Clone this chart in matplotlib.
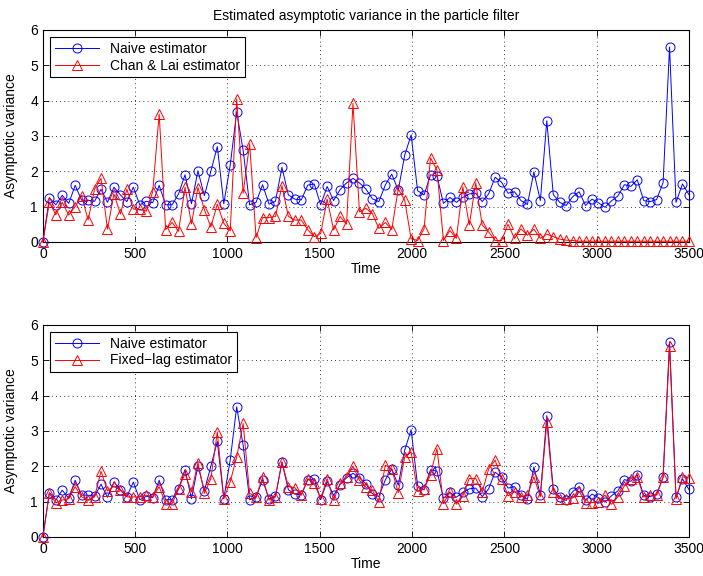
import numpy as np
import matplotlib
matplotlib.use("Agg")
import matplotlib.pyplot as plt

plt.rcParams['font.family'] = ['Liberation Sans', 'DejaVu Sans']
plt.rcParams['font.size'] = 10

# time grid (101 samples, every 35 steps)
time = np.arange(0, 3501, 35)

naive = [0, 1.25, 1.05, 1.32, 1.09, 1.6, 1.18, 1.18, 1.15, 1.49, 1.12,
         1.55, 1.33, 1.14, 1.55, 1.05, 1.15, 1.11, 1.6, 1.05, 1.05,
         1.36, 1.9, 1.08, 2.01, 1.31, 2.0, 2.7, 1.08, 2.18, 3.68,
         2.59, 1.05, 1.12, 1.62, 1.07, 1.15, 2.11, 1.33, 1.21, 1.19,
         1.61, 1.64, 1.05, 1.57, 1.17, 1.48, 1.67, 1.8, 1.67, 1.5,
         1.22, 1.14, 1.61, 1.92, 1.46, 2.45, 3.03, 1.45, 1.33, 1.9,
         1.86, 1.09, 1.26, 1.12, 1.26, 1.36, 1.38, 1.14, 1.36, 1.83,
         1.69, 1.38, 1.42, 1.17, 1.06, 1.98, 1.17, 3.43, 1.34, 1.12,
         1.03, 1.28, 1.42, 1.03, 1.21, 1.11, 0.98, 1.16, 1.3, 1.62,
         1.57, 1.76, 1.17, 1.14, 1.2, 1.68, 5.52, 1.12, 1.64, 1.34]

chan_lai = [0, 1.12, 0.77, 1.12, 0.76, 1.0, 1.31, 0.62, 1.5, 1.8, 0.36,
            1.36, 0.79, 1.49, 0.93, 0.92, 0.87, 1.42, 3.62, 0.35, 0.55,
            0.3, 1.55, 0.51, 1.54, 0.91, 0.42, 1.07, 0.53, 0.31, 4.05,
            1.38, 2.78, 0.12, 0.69, 0.69, 0.72, 1.59, 0.72, 0.62, 0.62,
            0.34, 0.15, 0.24, 1.21, 0.34, 0.72, 0.5, 3.92, 0.85, 0.95,
            0.8, 0.38, 0.55, 0.35, 1.5, 1.18, 0.09, 0.04, 0.37, 2.38,
            2.03, 0.04, 0.32, 0.1, 1.56, 0.48, 1.67, 0.48, 0.28, 0.04,
            0.04, 0.5, 0.1, 0.37, 0.19, 0.36, 0.1, 0.22, 0.15, 0.08,
            0.05, 0.04, 0.02, 0.02, 0.02, 0.02, 0.02, 0.02, 0.02, 0.02,
            0.02, 0.02, 0.02, 0.02, 0.02, 0.02, 0.02, 0.02, 0.02, 0.02]

fixed_lag = [0, 1.23, 0.96, 1.04, 1.08, 1.42, 1.13, 1.04, 1.13, 1.86, 1.3,
             1.44, 1.32, 1.13, 1.13, 1.13, 1.18, 1.13, 1.42, 0.94, 0.94,
             1.35, 1.79, 1.27, 2.1, 1.23, 1.65, 2.97, 1.08, 1.56, 2.26,
             3.21, 1.23, 1.13, 1.68, 1.04, 1.13, 2.12, 1.42, 1.39, 1.18,
             1.65, 1.51, 1.08, 1.65, 1.04, 1.51, 1.7, 2.0, 1.6, 1.4,
             1.32, 0.99, 2.03, 1.92, 1.25, 2.26, 2.4, 1.29, 1.35, 1.76,
             2.5, 0.94, 1.27, 0.92, 1.16, 1.65, 1.65, 1.27, 1.92, 2.17,
             1.65, 1.16, 1.28, 1.13, 1.18, 1.7, 1.13, 3.25, 1.27, 1.08,
             1.08, 1.1, 1.29, 0.97, 0.97, 0.99, 1.18, 0.92, 1.13, 1.44,
             1.65, 1.7, 1.13, 1.18, 1.18, 1.7, 5.4, 1.08, 1.7, 1.67]

fig = plt.figure(figsize=(7.03, 5.76), dpi=100)
ax1 = fig.add_axes([0.061, 0.580, 0.919, 0.368])
ax2 = fig.add_axes([0.061, 0.068, 0.919, 0.368])

circ = dict(mfc='none', ms=6.5, lw=0.7, mew=0.7, clip_on=False)
tri = dict(mfc='none', ms=7.8, lw=0.7, mew=0.7, clip_on=False)


def style(ax):
    ax.set_xlim(0, 3500)
    ax.set_ylim(0, 6)
    ax.set_xticks(np.arange(0, 3501, 500))
    ax.set_yticks(np.arange(0, 7, 1))
    ax.tick_params(direction='in', top=True, right=True, length=4, width=0.6)
    ax.grid(True, linestyle=(0, (1, 4)), color='black', linewidth=0.6)
    for s in ax.spines.values():
        s.set_linewidth(0.8)
        s.set_zorder(1)
    ax.set_xlabel('Time', labelpad=1)
    ax.set_ylabel('Asymptotic variance', labelpad=9)
    leg = ax.legend(loc='upper left', fancybox=False, edgecolor='black',
                    framealpha=1, handlelength=3.2, borderaxespad=0.5,
                    labelspacing=0.2, borderpad=0.35)
    leg.get_frame().set_linewidth(0.8)
    leg.set_zorder(5)


ax1.plot(time, naive, 'b-o', label='Naive estimator', **circ)
ax1.plot(time, chan_lai, 'r-^', label='Chan & Lai estimator', **tri)
ax1.set_title('Estimated asymptotic variance in the particle filter',
              fontsize=10, pad=7)
style(ax1)

ax2.plot(time, naive, 'b-o', label='Naive estimator', **circ)
ax2.plot(time, fixed_lag, 'r-^', label='Fixed\u2212lag estimator', **tri)
style(ax2)

fig.savefig('out.png', dpi=100)
